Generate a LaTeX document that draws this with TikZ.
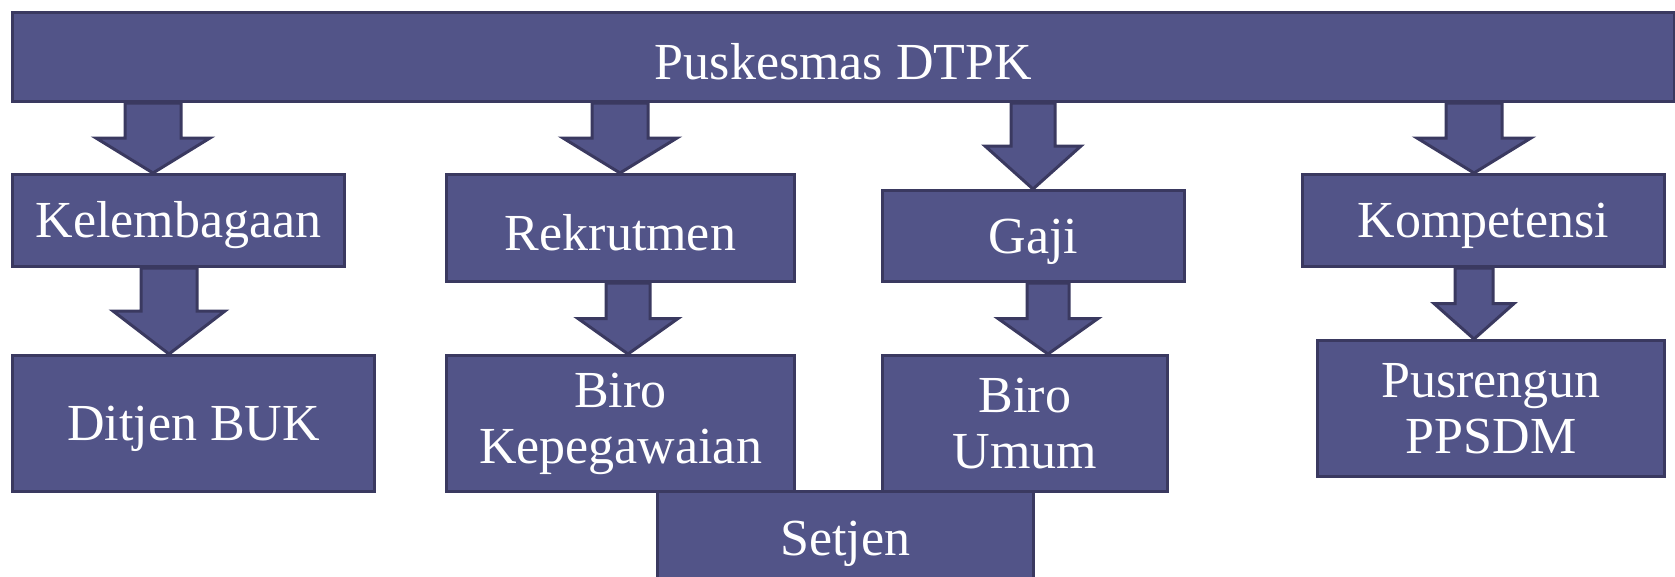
\documentclass[tikz,border=0pt]{standalone}
\usepackage{fontspec}
\setmainfont{Liberation Serif}
\usetikzlibrary{calc,backgrounds}

\definecolor{boxfill}{RGB}{82,84,136}
\definecolor{boxline}{RGB}{58,57,96}

% block arrow: from node, to node, x, shaft half width, head half width
\newcommand{\blockarrow}[5]{%
  \draw[barrow] let \p1=(#1.south), \p2=(#2.north), \n1={0.5*(\y1+\y2)} in
    ({(#3-#4)*1pt},\y1) -- ({(#3-#4)*1pt},{\n1*1pt}) -- ({(#3-#5)*1pt},{\n1*1pt})
    -- ({#3*1pt},\y2) -- ({(#3+#5)*1pt},{\n1*1pt}) -- ({(#3+#4)*1pt},{\n1*1pt})
    -- ({(#3+#4)*1pt},\y1) -- cycle;}

\begin{document}
\begin{tikzpicture}[x=1pt,y=-1pt,
  box/.style={draw=boxline,line width=3pt,fill=boxfill,text=white,inner sep=0pt,
    anchor=north west,align=center,font=\fontsize{52}{56}\selectfont,
    execute at begin node={\rule{0pt}{46pt}}},
  barrow/.style={draw=boxline,line width=3pt,fill=boxfill}]
\useasboundingbox (0,0) rectangle (1675,576);
\clip (0,0) rectangle (1675,576);

\node[box,minimum width=1662pt,minimum height=89pt] (dtpk) at (11,11) {Puskesmas DTPK};

\node[box,minimum width=332pt,minimum height=92pt] (kel) at (11,173) {Kelembagaan};
\node[box,minimum width=348pt,minimum height=107pt] (rek) at (445,173) {Rekrutmen};
\node[box,minimum width=302pt,minimum height=91pt] (gaji) at (881,189) {Gaji};
\node[box,minimum width=362pt,minimum height=92pt] (komp) at (1301,173) {Kompetensi};

\node[box,minimum width=362pt,minimum height=136pt] (ditjen) at (11,354) {Ditjen BUK};
\node[box,minimum width=348pt,minimum height=136pt] (kep) at (445,354) {Biro\\Kepegawaian};
\node[box,minimum width=285pt,minimum height=136pt] (umum) at (881,354) {Biro\\Umum};
\node[box,minimum width=347pt,minimum height=136pt] (pus) at (1316,339) {Pusrengun\\PPSDM};

\node[box,minimum width=376pt,minimum height=94pt] (setjen) at (656,490) {Setjen};

\begin{pgfonlayer}{background}
\blockarrow{dtpk}{kel}{153}{28}{57}
\blockarrow{kel}{ditjen}{169}{28}{56}
\blockarrow{dtpk}{rek}{620}{28}{57}
\blockarrow{rek}{kep}{628}{22}{50}
\blockarrow{dtpk}{gaji}{1033}{22}{48}
\blockarrow{gaji}{umum}{1048}{21}{50}
\blockarrow{dtpk}{komp}{1474}{28}{57}
\blockarrow{komp}{pus}{1474}{19}{40}
\end{pgfonlayer}
\end{tikzpicture}
\end{document}
